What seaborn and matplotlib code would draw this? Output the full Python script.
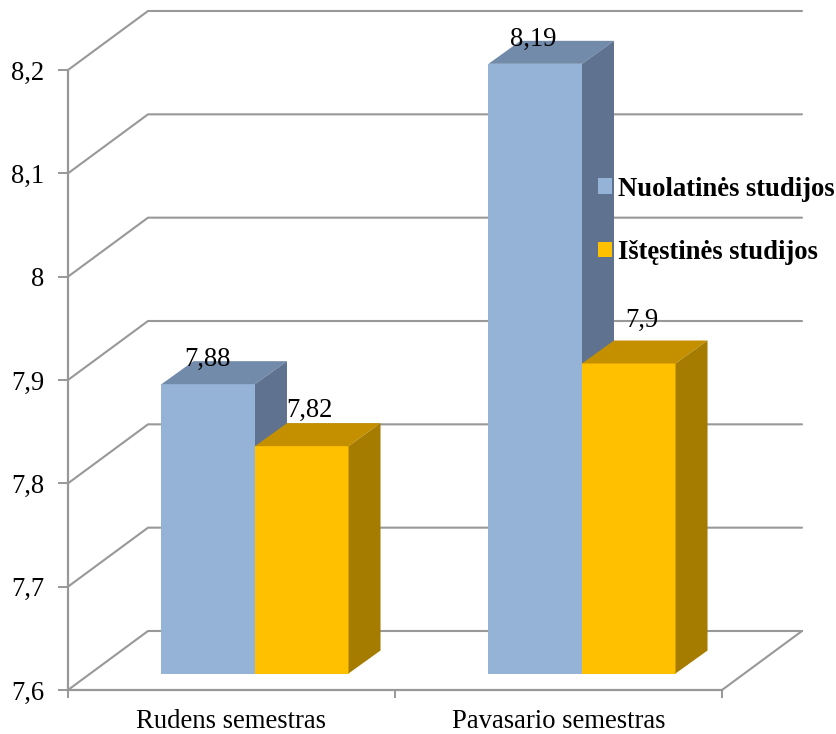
import matplotlib
matplotlib.use("Agg")
import matplotlib.pyplot as plt
from matplotlib.patches import Polygon
from matplotlib.transforms import Affine2D, IdentityTransform
import pandas as pd
import seaborn as sns

semesters = ["Rudens semestras", "Pavasario semestras"]
series_names = ["Nuolatinės studijos", "Ištęstinės studijos"]
full_time = [7.88, 8.19]
part_time = [7.82, 7.9]
bar_labels = [["7,88", "8,19"], ["7,82", "7,9"]]
y_ticks = [7.6, 7.7, 7.8, 7.9, 8.0, 8.1, 8.2]
y_tick_labels = ["7,6", "7,7", "7,8", "7,9", "8", "8,1", "8,2"]

W, H = 836, 734
GRID = "#989898"
front_colors = ["#95B3D7", "#FFC000"]
top_colors = ["#728BAB", "#C49000"]
side_colors = ["#5F7390", "#A67C00"]

# pixel offsets of the fake 3D box
WALL = (80, 59)
BAR_SHIFT = (23.5, 16.5)
BAR_DEPTH = (32, 23)
label_offsets = [[(-1, 25), (-2, 24)], [(8, 36), (13, 43)]]

df = pd.DataFrame({
    "semester": semesters * 2,
    "series": [series_names[0]] * 2 + [series_names[1]] * 2,
    "value": full_time + part_time,
})

sns.set_style("white")
plt.rcParams["font.family"] = ["Liberation Serif", "DejaVu Serif"]
plt.rcParams["text.color"] = "black"

fig = plt.figure(figsize=(W / 100, H / 100), dpi=100)
ax = fig.add_axes([68 / W, (H - 690) / H, 654 / W, 620 / H])

sns.barplot(data=df, x="semester", y="value", hue="series", palette=front_colors,
            saturation=1, width=0.572, gap=0, ax=ax, linewidth=0)
ax.set_xlim(-0.5, 1.5)
ax.set_ylim(y_ticks[0], y_ticks[-1])
ax.set_xlabel("")
ax.set_ylabel("")

to_px = ax.transData
shift = to_px + Affine2D().translate(*BAR_SHIFT)

# walls and floor
for v in y_ticks:
    x0, y0 = to_px.transform((-0.5, v))
    x1, y1 = to_px.transform((1.5, v))
    ax.plot([x0, x0 + WALL[0], x1 + WALL[0]], [y0, y0 + WALL[1], y1 + WALL[1]],
            color=GRID, lw=1.5, transform=IdentityTransform(), clip_on=False, zorder=1)
x1, y1 = to_px.transform((1.5, y_ticks[0]))
ax.plot([x1, x1 + WALL[0]], [y1, y1 + WALL[1]], color=GRID, lw=1.5,
        transform=IdentityTransform(), clip_on=False, zorder=1)

# bars: front face from seaborn, top and side faces worked out from it
for i, bars in enumerate(ax.containers):
    for j, p in enumerate(bars):
        value = p.get_height()
        p.set_y(y_ticks[0])
        p.set_height(value - y_ticks[0])
        p.set_transform(shift)
        p.set_clip_on(False)
        p.set_zorder(3 + i)

        left, right = p.get_x(), p.get_x() + p.get_width()
        (xl, yb), (xr, yt) = shift.transform([(left, y_ticks[0]), (right, value)])
        dx, dy = BAR_DEPTH
        ax.add_patch(Polygon([(xl, yt), (xr, yt), (xr + dx, yt + dy), (xl + dx, yt + dy)],
                             color=top_colors[i], lw=0, transform=IdentityTransform(),
                             clip_on=False, zorder=3 + i))
        ax.add_patch(Polygon([(xr, yb), (xr + dx, yb + dy), (xr + dx, yt + dy), (xr, yt)],
                             color=side_colors[i], lw=0, transform=IdentityTransform(),
                             clip_on=False, zorder=3 + i))
        ax.annotate(bar_labels[i][j], xy=((left + right) / 2, value), xycoords=shift,
                    xytext=label_offsets[i][j], textcoords="offset pixels",
                    ha="center", va="center", fontsize=19.2, color="black", zorder=6)

# axes
sns.despine(ax=ax)
for side in ["left", "bottom"]:
    ax.spines[side].set_color(GRID)
    ax.spines[side].set_linewidth(1.6)
ax.set_yticks(y_ticks, y_tick_labels)
ax.set_xticks([0, 1], semesters)
ax.set_xticks([-0.5, 0.5, 1.5], minor=True)
ax.tick_params(axis="y", left=True, length=7, width=1.4, color=GRID, labelsize=19.2,
               labelcolor="black", pad=10)
ax.tick_params(axis="x", which="major", bottom=False, length=0, labelsize=19.2,
               labelcolor="black", pad=13.5)
ax.tick_params(axis="x", which="minor", bottom=True, length=5.5, width=1.4, color=GRID)

handles, labels = ax.get_legend_handles_labels()
leg = ax.legend(handles, labels, frameon=False, loc="upper left",
                bbox_to_anchor=(598 / W, (H - 176.5) / H), bbox_transform=fig.transFigure,
                prop={"family": "Liberation Serif", "weight": "bold", "size": 19.2},
                handlelength=0.52, handleheight=0.52, handletextpad=0.22,
                labelspacing=1.45, borderpad=0, borderaxespad=0)
leg.set_zorder(10)

fig.savefig("out.png", dpi=100, facecolor="white")
